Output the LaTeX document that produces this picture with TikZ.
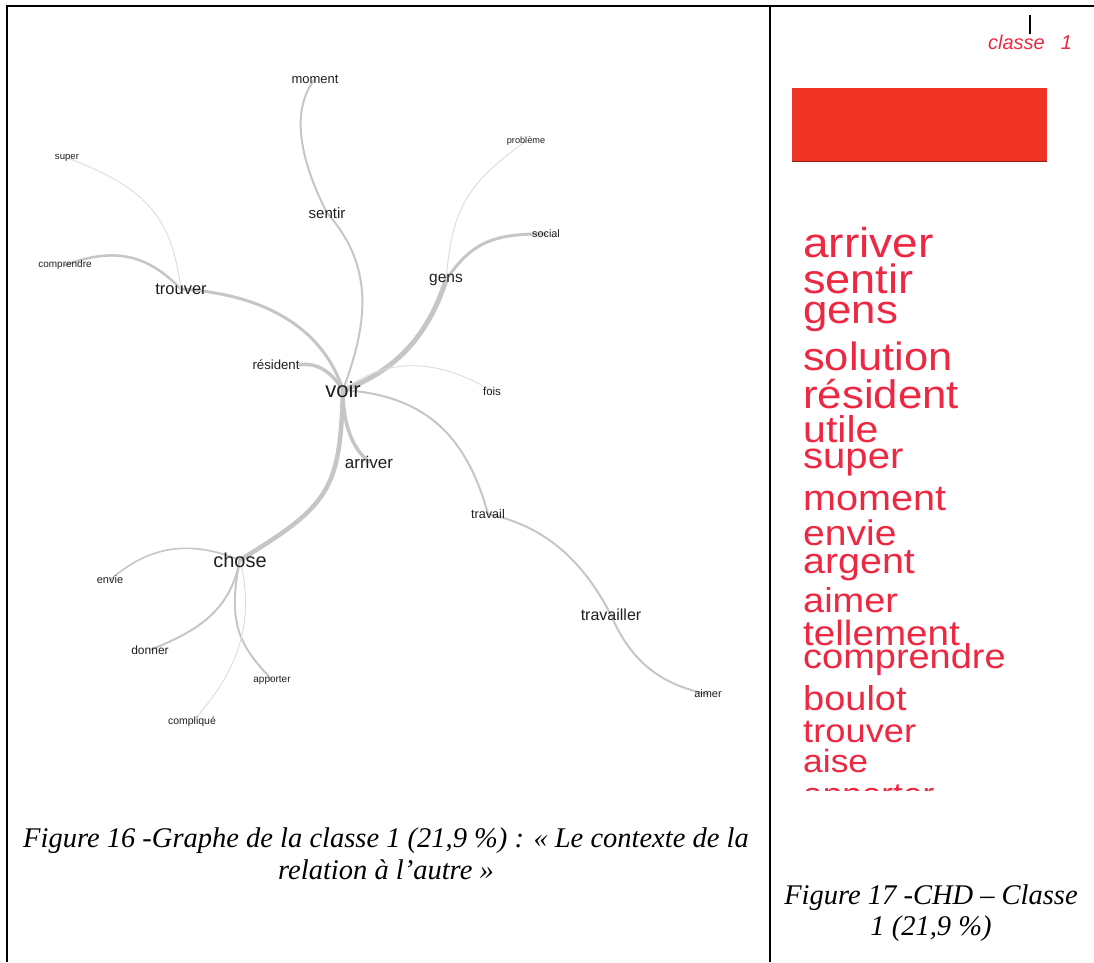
\documentclass[tikz,border=0pt]{standalone}
\usepackage{fontspec}
\setmainfont{Liberation Serif}
\newfontfamily\graphfont{Liberation Sans}
\newfontfamily\cloudfont[FakeStretch=1.1]{Liberation Sans}
\usetikzlibrary{backgrounds}

\definecolor{edgegray}{RGB}{198,198,198}
\definecolor{paleedge}{RGB}{220,220,220}
\definecolor{boxred}{RGB}{239,52,38}
\definecolor{wordred}{RGB}{236,40,66}

\begin{document}
\begin{tikzpicture}[x=1pt,y=-1pt,
    lbl/.style={font={\graphfont\fontsize{#1}{#1}\selectfont},text=black!88,inner sep=0pt},
    cloud/.style={font={\cloudfont\fontsize{#1}{#1}\selectfont},text=wordred,inner sep=0pt,anchor=base west},
    edge/.style={edgegray,line width=#1,line cap=round},
    thinedge/.style={paleedge,line width=0.9pt},
    caption/.style={font={\itshape\fontsize{28.5}{31.5}\selectfont},align=center,inner sep=0pt}]

    \useasboundingbox (0,0) rectangle (1094,962);

    % page frame and column rule
    \draw[line width=2pt] (6.7,962) -- (6.7,5.7) -- (1094,5.7);
    \draw[line width=2pt] (770,5.7) -- (770,962);

    %%%%%%%%%%%%%%%%%%%%%%%%%%%%%%%%%%%%%%%%%%%%%%%%%%%%%%

    % centre word
    \node[lbl=22] (voir) at (343,390) {voir};

    % upper left branch
    \node[lbl=16.5] (trouver) at (181,289) {trouver};
    \node[lbl=10] (comprendre) at (65,265) {comprendre};
    \node[lbl=9.6] (super) at (67,158) {super};
    \node[lbl=13.2] (resident) at (276,365) {résident};

    % upper branch
    \node[lbl=15] (sentir) at (327,213) {sentir};
    \node[lbl=13] (moment) at (315,79) {moment};

    % upper right branch
    \node[lbl=15.5] (gens) at (446,280) {gens};
    \node[lbl=10.8] (social) at (546,234) {social};
    \node[lbl=9.2] (probleme) at (526,141) {problème};
    \node[lbl=11.5] (fois) at (492,391) {fois};

    % lower right branch
    \node[lbl=12.6] (travail) at (488,514) {travail};
    \node[lbl=16] (travailler) at (611,615) {travailler};
    \node[lbl=11] (aimer) at (708,694) {aimer};

    % lower branch
    \node[lbl=17] (arriver) at (369,462) {arriver};
    \node[lbl=20] (chose) at (240,560) {chose};
    \node[lbl=11] (envie) at (110,580) {envie};
    \node[lbl=12] (donner) at (150,650) {donner};
    \node[lbl=10] (apporter) at (272,680) {apporter};
    \node[lbl=10.5] (complique) at (192,722) {compliqué};

    %%%%%%%%%%%%%%%%%%%%%%%%%%%%%%%%%%%%%%%%%%%%%%%%%%%%%%

    \begin{pgfonlayer}{background}
    % edges from voir
    \draw[edge=3pt] (voir.center) .. controls (325,335) and (275,295) .. (trouver.center);
    \draw[edge=2pt] (voir.center) .. controls (365,330) and (378,270) .. (sentir.center);
    \draw[edge=3.5pt] (voir.center) .. controls (330,370) and (315,362) .. (resident.east);
    \draw[edge=5pt] (voir.center) .. controls (400,370) and (430,330) .. (gens.center);
    \draw[thinedge] (voir.center) .. controls (390,355) and (440,360) .. (fois.center);
    \draw[edge=2pt] (voir.center) .. controls (420,395) and (465,430) .. (travail.center);
    \draw[edge=3.5pt] (voir.center) .. controls (343,430) and (355,450) .. (arriver.center);
    \draw[edge=4.5pt] (voir.center) .. controls (340,490) and (330,505) .. (chose.center);

    % edges from trouver and sentir
    \draw[edge=2.5pt] (trouver.center) .. controls (150,258) and (120,245) .. (comprendre.center);
    \draw[thinedge] (trouver.center) .. controls (172,225) and (155,190) .. (super.center);
    \draw[edge=2pt] (sentir.center) .. controls (300,160) and (290,110) .. (moment.center);

    % edges from gens
    \draw[edge=3pt] (gens.center) .. controls (470,245) and (490,233) .. (social.center);
    \draw[thinedge] (gens.center) .. controls (452,210) and (465,185) .. (probleme.center);

    % edges from travail and travailler
    \draw[edge=2pt] (travail.center) .. controls (540,525) and (580,555) .. (travailler.center);
    \draw[edge=2pt] (travailler.center) .. controls (630,660) and (660,685) .. (aimer.center);

    % edges from chose
    \draw[edge=1.6pt] (chose.center) .. controls (190,540) and (150,545) .. (envie.center);
    \draw[edge=2pt] (chose.center) .. controls (230,610) and (200,630) .. (donner.center);
    \draw[edge=2pt] (chose.center) .. controls (225,630) and (245,650) .. (apporter.center);
    \draw[thinedge] (chose.center) .. controls (255,620) and (240,670) .. (complique.center);
    \end{pgfonlayer}

    %%%%%%%%%%%%%%%%%%%%%%%%%%%%%%%%%%%%%%%%%%%%%%%%%%%%%%

    % class header and bar
    \draw[line width=1.2pt] (1030,15) -- (1030,34);
    \node[font={\graphfont\itshape\fontsize{20}{20}\selectfont},text=wordred] (classe) at (1030,42) {classe\hspace{16pt}1};
    \fill[boxred] (792,88) rectangle (1047,161);
    \draw[boxred!60!black,line width=1pt] (792,161) -- (1047,161);

    % word list of the class
    \node[cloud=41.8] (warriver) at (803,257) {arriver};
    \node[cloud=41] (wsentir) at (803,293) {sentir};
    \node[cloud=39.8] (wgens) at (803,323) {gens};
    \node[cloud=39.5] (wsolution) at (803,370) {solution};
    \node[cloud=39.8] (wresident) at (803,408) {résident};
    \node[cloud=37.3] (wutile) at (803,442) {utile};
    \node[cloud=36.4] (wsuper) at (803,468) {super};
    \node[cloud=36] (wmoment) at (803,510) {moment};
    \node[cloud=35.5] (wenvie) at (803,545) {envie};
    \node[cloud=35.8] (wargent) at (803,573) {argent};
    \node[cloud=34.5] (waimer) at (803,612) {aimer};
    \node[cloud=35.1] (wtellement) at (803,645) {tellement};
    \node[cloud=34.5] (wcomprendre) at (803,668) {comprendre};
    \node[cloud=34.5] (wboulot) at (803,710) {boulot};
    \node[cloud=33] (wtrouver) at (803,742) {trouver};
    \node[cloud=32.2] (waise) at (803,772) {aise};
    \begin{scope}
    \clip (780,750) rectangle (1090,790);
    \node[cloud=32] (wapporter) at (803,805) {apporter};
    \end{scope}

    %%%%%%%%%%%%%%%%%%%%%%%%%%%%%%%%%%%%%%%%%%%%%%%%%%%%%%

    % captions
    \node[caption] (cap16) at (386,854) {Figure 16 -Graphe de la classe 1 (21,9 \%) : « Le contexte de la\\relation à l’autre »};
    \node[caption] (cap17) at (931,913) {Figure 17 -CHD – Classe\\1 (21,9 \%)};

\end{tikzpicture}
\end{document}
